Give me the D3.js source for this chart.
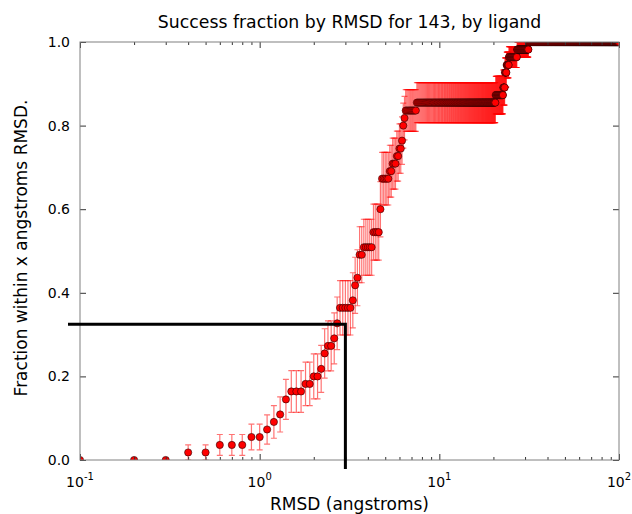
<!DOCTYPE html>
<html lang="en">
<head>
    <meta charset="UTF-8">
    <title>Success fraction by RMSD</title>
    <script src="https://d3js.org/d3.v7.min.js"></script>
    <style>
        body { margin: 0; background: #fff; }
        text { font-family: "DejaVu Sans", sans-serif; fill: #000; }
    </style>
</head>
<body>
<svg width="632" height="514"></svg>
<script>
    // step table: RMSD where a new fraction starts, fraction, error half-length
    const stepStart = [0.1, 0.4, 0.6, 0.9, 1.1, 1.2, 1.3, 1.4, 1.5, 1.8,
        2.0, 2.2, 2.3, 2.4, 2.6, 2.7, 2.8, 3.3, 3.4, 3.5,
        3.6, 3.8, 4.3, 4.7, 4.8, 5.3, 5.5, 5.8, 6.0, 6.2,
        6.3, 6.4, 6.5, 7.5, 20.6, 22.7, 23.2, 23.7, 24.4, 27.1, 31.4];
    const stepFraction = [0, .018, .036, .055, .073, .091, .109, .145, .164, .182,
        .2, .218, .255, .273, .291, .327, .364, .382, .418, .436,
        .491, .509, .545, .6, .673, .691, .709, .727, .745, .764,
        .8, .818, .836, .855, .873, .891, .927, .945, .964, .982, 1];
    const stepError = [0, .018, .025, .031, .035, .039, .042, .048, .050, .052,
        .054, .056, .059, .060, .061, .063, .065, .066, .067, .067,
        .067, .067, .067, .066, .063, .062, .061, .060, .059, .057,
        .054, .052, .050, .048, .045, .042, .035, .031, .025, .018, 0];

    // the curve was sampled every 0.1 A from 0.1 to 100
    const samples = d3.range(1, 1001).map(i => i / 10);

    const cutoffRmsd = 3.0, cutoffFraction = 0.325;

    const yTicks = [0, 0.2, 0.4, 0.6, 0.8, 1.0];
    const xDecades = [0.1, 1, 10, 100];
    const xExponents = ["-1", "0", "1", "2"];

    const svg = d3.select("svg"),
        margin = {top: 42, right: 13, bottom: 54, left: 80},
        width = +svg.attr("width") - margin.left - margin.right,
        height = +svg.attr("height") - margin.top - margin.bottom,
        g = svg.append("g").attr("transform", `translate(${margin.left},${margin.top})`);

    const x = d3.scaleLog().domain([0.1, 100]).range([0, width]);
    const y = d3.scaleLinear().domain([0, 1]).range([height, 0]);

    const data = samples.map(r => {
        const i = d3.bisectRight(stepStart, r + 1e-9) - 1;
        return {r, f: stepFraction[i], e: stepError[i]};
    });

    svg.append("defs").append("clipPath").attr("id", "plot")
        .append("rect").attr("width", width).attr("height", height);

    const plot = g.append("g").attr("clip-path", "url(#plot)");

    // error bars with small caps
    const withErr = data.filter(d => d.e > 0);
    plot.append("g").selectAll("path").data(withErr).join("path")
        .attr("d", d => {
            const cx = x(d.r), lo = y(d.f - d.e), hi = y(d.f + d.e);
            return `M${cx},${lo}V${hi}M${cx - 3},${lo}H${cx + 3}M${cx - 3},${hi}H${cx + 3}`;
        })
        .attr("fill", "none")
        .attr("stroke", "rgba(255,0,0,0.55)")
        .attr("stroke-width", 1.2);

    // markers
    plot.append("g").selectAll("circle").data(data).join("circle")
        .attr("cx", d => x(d.r))
        .attr("cy", d => y(d.f))
        .attr("r", 3.6)
        .attr("fill", "#ff0000")
        .attr("stroke", "#2a0000")
        .attr("stroke-width", 0.6);

    // axes: ticks point inward on all four sides
    const minor = [];
    xDecades.slice(0, -1).forEach(d => { for (let k = 2; k < 10; k++) minor.push(d * k); });

    function styleAxis(sel) {
        sel.select(".domain").remove();
        sel.selectAll(".tick line").attr("stroke", "#333");
        sel.selectAll(".tick text").style("font-size", "14px").style("font-family", "DejaVu Sans");
    }

    g.append("g").attr("transform", `translate(0,${height})`)
        .call(d3.axisBottom(x).tickValues(xDecades).tickSize(-6).tickFormat("")).call(styleAxis);
    g.append("g").attr("transform", `translate(0,${height})`)
        .call(d3.axisBottom(x).tickValues(minor).tickSize(-3).tickFormat("")).call(styleAxis);
    g.append("g")
        .call(d3.axisTop(x).tickValues(xDecades).tickSize(-6).tickFormat("")).call(styleAxis);
    g.append("g")
        .call(d3.axisTop(x).tickValues(minor).tickSize(-3).tickFormat("")).call(styleAxis);
    g.append("g")
        .call(d3.axisLeft(y).tickValues(yTicks).tickSize(-6).tickPadding(10).tickFormat(d3.format(".1f")))
        .call(styleAxis);
    g.append("g").attr("transform", `translate(${width},0)`)
        .call(d3.axisRight(y).tickValues(yTicks).tickSize(-6).tickFormat("")).call(styleAxis);

    g.append("rect")
        .attr("width", width).attr("height", height)
        .attr("fill", "none").attr("stroke", "#808080").attr("stroke-width", 1);

    // x tick labels as powers of ten
    const xl = g.append("g").selectAll("text").data(xDecades).join("text")
        .attr("x", d => x(d))
        .attr("y", height + 27)
        .attr("text-anchor", "middle")
        .style("font-size", "14px");
    xl.append("tspan").text("10");
    xl.append("tspan").attr("dy", -7).style("font-size", "10px").text((d, i) => xExponents[i]);

    // cutoff marker
    g.append("path")
        .attr("d", `M${x(0.1) - 12},${y(cutoffFraction)}H${x(cutoffRmsd)}V${height + 9}`)
        .attr("fill", "none").attr("stroke", "#000").attr("stroke-width", 3);

    svg.append("text")
        .attr("x", margin.left + width / 2).attr("y", 28)
        .attr("text-anchor", "middle").style("font-size", "17.3px")
        .text("Success fraction by RMSD for 143, by ligand");

    svg.append("text")
        .attr("x", margin.left + width / 2).attr("y", 510)
        .attr("text-anchor", "middle").style("font-size", "17px")
        .text("RMSD (angstroms)");

    svg.append("text")
        .attr("transform", `translate(27,${margin.top + height / 2 - 3}) rotate(-90)`)
        .attr("text-anchor", "middle").style("font-size", "17px")
        .text("Fraction within x angstroms RMSD.");
</script>
</body>
</html>
